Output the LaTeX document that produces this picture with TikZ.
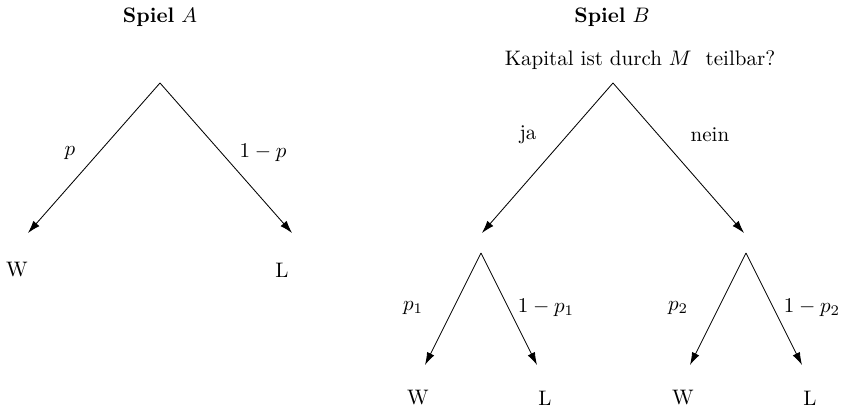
\documentclass[tikz,border=0pt]{standalone}
\usepackage{amsmath, amssymb}
\usetikzlibrary{arrows.meta}
\begin{document}
\begin{tikzpicture}[x=0.476pt, y=-0.476pt,
    branch/.style={-{Latex[length=6pt,width=3.8pt]}}]
            \useasboundingbox (0,0) rectangle (845,408);
            % Spiel A
            \node (titleA) at (160,17) {\textbf{Spiel} $A$};
            \coordinate (a0) at (160,83);
            \coordinate (a1) at (28,233);
            \coordinate (a2) at (292,233);
            \draw[branch] (a0) -- (a1);
            \draw[branch] (a0) -- (a2);
            \node (aW) at (17,270) {W};
            \node (aL) at (282,270) {L};
            \node (ap) at (70,153) {$p$};
            \node (aq) at (263,153) {$1-p$};
            % Spiel B
            \node (titleB) at (612,17) {\textbf{Spiel} $B$};
            \node (frage) at (640,60) {Kapital ist durch $M$~ teilbar?};
            \coordinate (b0) at (613,83);
            \coordinate (b1) at (482,233);
            \coordinate (b2) at (744,233);
            \draw[branch] (b0) -- (b1);
            \draw[branch] (b0) -- (b2);
            \node (ja) at (528,135) {ja};
            \node (nein) at (710,135) {nein};
            % Teilbaum ja
            \coordinate (c0) at (481,253);
            \coordinate (c1) at (425,365);
            \coordinate (c2) at (537,365);
            \draw[branch] (c0) -- (c1);
            \draw[branch] (c0) -- (c2);
            \node (cW) at (418,398) {W};
            \node (cL) at (545,398) {L};
            \node (cp) at (413,308) {$p_1$};
            \node (cq) at (546,308) {$1-p_1$};
            % Teilbaum nein
            \coordinate (d0) at (746,253);
            \coordinate (d1) at (690,365);
            \coordinate (d2) at (802,365);
            \draw[branch] (d0) -- (d1);
            \draw[branch] (d0) -- (d2);
            \node (dW) at (683,398) {W};
            \node (dL) at (810,398) {L};
            \node (dp) at (678,308) {$p_2$};
            \node (dq) at (812,308) {$1-p_2$};
          \end{tikzpicture}
\end{document}
